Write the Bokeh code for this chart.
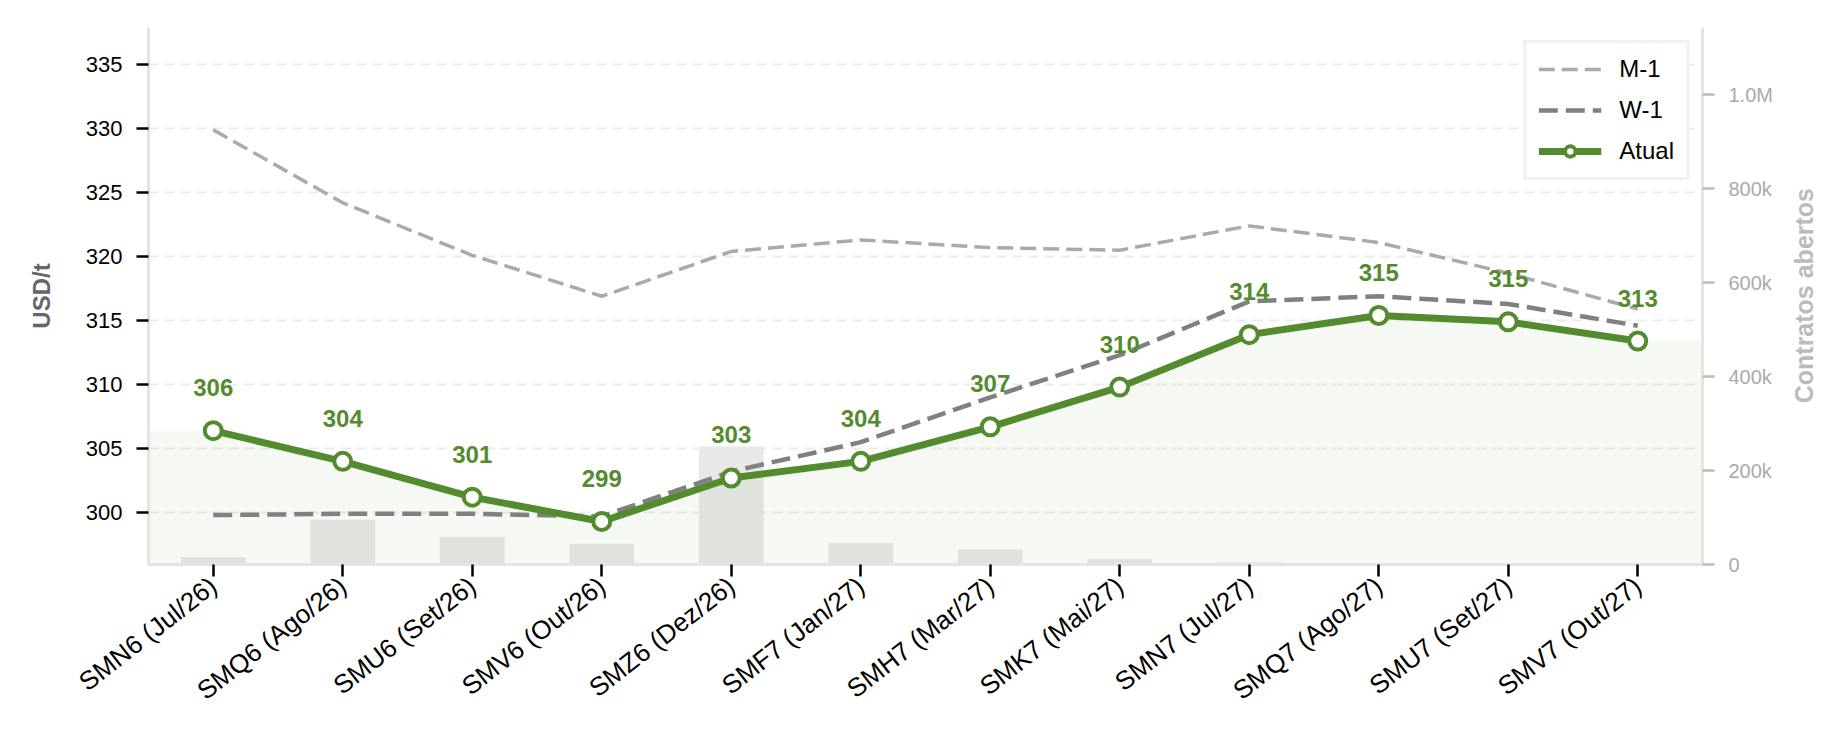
import math
from bokeh.plotting import figure
from bokeh.layouts import row
from bokeh.models import Range1d, LinearAxis, FixedTicker, ColumnDataSource, Label
from bokeh.core.properties import value
from bokeh.embed import file_html
from bokeh.resources import INLINE

# ---------------- data ----------------
contracts = ["SMN6 (Jul/26)", "SMQ6 (Ago/26)", "SMU6 (Set/26)", "SMV6 (Out/26)",
             "SMZ6 (Dez/26)", "SMF7 (Jan/27)", "SMH7 (Mar/27)", "SMK7 (Mai/27)",
             "SMN7 (Jul/27)", "SMQ7 (Ago/27)", "SMU7 (Set/27)", "SMV7 (Out/27)"]
atual = [306.4, 304.0, 301.2, 299.3, 302.7, 304.0, 306.7, 309.8, 313.9, 315.4, 314.9, 313.4]
w1 = [299.8, 299.9, 299.9, 299.7, 303.2, 305.5, 309.0, 312.3, 316.5, 316.9, 316.3, 314.6]
m1 = [329.9, 324.2, 320.1, 316.9, 320.4, 321.3, 320.7, 320.5, 322.4, 321.1, 318.7, 315.9]
open_interest = [16000, 95000, 59000, 44000, 251000, 46000, 32000, 11000, 5000, 800, 300, 100]

y_ticks = [300, 305, 310, 315, 320, 325, 330, 335]
oi_ticks = [0, 200000, 400000, 600000, 800000, 1000000]
oi_tick_labels = ["0", "200k", "400k", "600k", "800k", "1.0M"]
series_names = ["M-1", "W-1", "Atual"]
right_title = "Contratos abertos"

Y_MIN, Y_MAX = 295.94, 337.9
OI_MAX = 1142600
X_START, X_END = -0.5, len(contracts) - 0.5

FONT = "Liberation Sans"
GREEN = "#558b2f"

MAIN_W, SIDE_W, H = 1780, 66, 734
BORDER_TOP, BORDER_BOTTOM = 27, 170

idx = list(range(len(contracts)))

p = figure(width=MAIN_W, height=H, output_backend="svg", toolbar_location=None,
           x_range=Range1d(X_START, X_END), y_range=Range1d(Y_MIN, Y_MAX),
           min_border_left=148, min_border_right=78, min_border_top=BORDER_TOP,
           min_border_bottom=BORDER_BOTTOM)
p.outline_line_color = None
p.background_fill_color = "white"
p.border_fill_color = "white"

p.extra_y_ranges = {"oi": Range1d(0, OI_MAX)}

# bars (open interest, right axis)
p.vbar(x=idx, top=open_interest, width=0.5, y_range_name="oi",
       fill_color="#e8e8e8", line_color=None)

# light area under current curve, extended to the edges
fill_x = [X_START] + idx + [X_END]
fill_y = [atual[0]] + atual + [atual[-1]]
p.varea(x=fill_x, y1=[Y_MIN] * len(fill_x), y2=fill_y,
        fill_color=GREEN, fill_alpha=0.06)

# lines
p.line(idx, m1, line_color="#aaaaaa", line_width=3.5, line_dash="16 7",
       legend_label=series_names[0])
p.line(idx, w1, line_color="#808080", line_width=4.5, line_dash="19 8",
       legend_label=series_names[1])
p.line(idx, atual, line_color=GREEN, line_width=7, legend_label=series_names[2])
p.scatter(idx, atual, size=17, fill_color="white", line_color=GREEN,
          line_width=4, legend_label=series_names[2])

# data labels
src = ColumnDataSource(dict(x=idx, y=atual, t=[f"{v:.0f}" for v in atual]))
p.text(x="x", y="y", text="t", source=src, y_offset=-43,
       text_align="center", text_baseline="middle",
       text_font=value(FONT), text_font_style="bold",
       text_font_size="24px", text_color=GREEN)

# left axis
ya = p.yaxis[0]
ya.ticker = FixedTicker(ticks=y_ticks)
ya.axis_label = "USD/t"
ya.axis_label_text_font = FONT
ya.axis_label_text_font_style = "bold"
ya.axis_label_text_font_size = "24px"
ya.axis_label_text_color = "#666666"
ya.axis_label_standoff = 28
ya.major_label_text_font = FONT
ya.major_label_text_font_size = "22px"
ya.major_label_text_color = "black"
ya.major_label_standoff = 14
ya.major_tick_out = 12
ya.major_tick_in = 0
ya.major_tick_line_width = 2.5
ya.major_tick_line_color = "black"
ya.minor_tick_line_color = None
ya.axis_line_color = "#e4e4e4"
ya.axis_line_width = 3

# bottom axis
xa = p.xaxis[0]
xa.ticker = FixedTicker(ticks=idx)
xa.major_label_overrides = {i: c for i, c in zip(idx, contracts)}
xa.major_label_orientation = math.radians(38)
xa.major_label_text_font = FONT
xa.major_label_text_font_size = "26px"
xa.major_label_text_color = "black"
xa.major_label_standoff = 6
xa.major_tick_out = 12
xa.major_tick_in = 0
xa.major_tick_line_width = 2.5
xa.major_tick_line_color = "black"
xa.minor_tick_line_color = None
xa.axis_line_color = "#e4e4e4"
xa.axis_line_width = 3

# right axis
ra = LinearAxis(y_range_name="oi")
ra.ticker = FixedTicker(ticks=oi_ticks)
ra.major_label_overrides = {t: l for t, l in zip(oi_ticks, oi_tick_labels)}
ra.major_label_text_font = FONT
ra.major_label_text_font_size = "20px"
ra.major_label_text_color = "#aaaaaa"
ra.major_label_standoff = 14
ra.major_tick_out = 12
ra.major_tick_in = 0
ra.major_tick_line_width = 2.5
ra.major_tick_line_color = "#bbbbbb"
ra.minor_tick_line_color = None
ra.axis_line_color = "#e4e4e4"
ra.axis_line_width = 3
p.add_layout(ra, "right")

# grid
p.xgrid.grid_line_color = None
p.ygrid.grid_line_color = "#ececec"
p.ygrid.grid_line_width = 2
p.ygrid.grid_line_dash = "10 6"

# legend
lg = p.legend[0]
lg.location = "top_right"
lg.margin = 13
lg.padding = 12
lg.spacing = 13
lg.glyph_width = 63
lg.glyph_height = 26
lg.label_height = 26
lg.label_standoff = 18
lg.label_text_font = FONT
lg.label_text_font_size = "24px"
lg.label_text_color = "black"
lg.border_line_color = "#e4e4e4"
lg.border_line_width = 3
lg.background_fill_color = "white"
lg.background_fill_alpha = 1.0

# side strip carrying the right-axis title (reads bottom-to-top, centred on the frame)
side = figure(width=SIDE_W, height=H, output_backend="svg", toolbar_location=None,
              x_range=Range1d(0, SIDE_W), y_range=Range1d(0, H),
              x_axis_type=None, y_axis_type=None,
              min_border_left=0, min_border_right=0, min_border_top=0,
              min_border_bottom=0)
side.outline_line_color = None
side.background_fill_color = "white"
side.border_fill_color = "white"
side.xgrid.grid_line_color = None
side.ygrid.grid_line_color = None
frame_mid = H - (BORDER_TOP + (H - BORDER_BOTTOM)) / 2
side.add_layout(Label(x=23, y=frame_mid - 71, text=right_title, angle=math.pi / 2,
                      text_align="center", text_baseline="middle",
                      text_font=FONT, text_font_style="bold",
                      text_font_size="25px", text_color="#bbbbbb"))

layout = row(p, side)
open("out.html", "w").write(file_html(layout, INLINE))
